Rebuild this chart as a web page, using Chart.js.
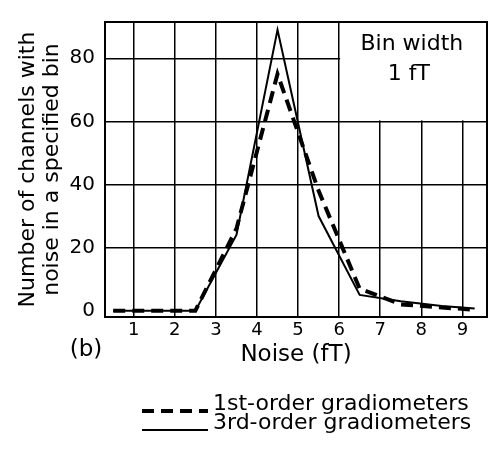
<!DOCTYPE html>
<html>
<head>
<meta charset="utf-8">
<script src="https://cdn.jsdelivr.net/npm/chart.js@4.4.1/dist/chart.umd.min.js"></script>
<style>
  html, body { margin: 0; padding: 0; background: #fff; }
  #wrap { width: 489px; height: 455px; }
</style>
</head>
<body>
<div id="wrap"><canvas id="noise"></canvas></div>
<script>
// values (bin centres in fT)
const noiseBins = [0.5, 1.5, 2.5, 3.5, 4.5, 5.5, 6.5, 7.5, 8.5, 9.3];
const firstOrder = [0, 0, 0, 26, 75, 38, 7, 2, 1, 0.3];
const thirdOrder = [0, 0, 0, 24, 89, 30, 5, 3, 1.5, 0.7];
const seriesNames = ['1st-order gradiometers', '3rd-order gradiometers'];
const xTicks = [1, 2, 3, 4, 5, 6, 7, 8, 9];
const yTicks = [0, 20, 40, 60, 80];

const FONT = 'DejaVu Sans';
const INK = '#000';

const toPoints = vals => vals.map((v, i) => ({ x: noiseBins[i], y: v }));

// frame, "Bin width" box, panel mark and the legend under the axis
const paperPlugin = {
  id: 'paper',
  beforeDatasetsDraw(chart) {
    const { ctx, chartArea: a, scales: { x, y } } = chart;
    ctx.save();
    const bx = x.getPixelForValue(6);
    const by = y.getPixelForValue(60);
    ctx.fillStyle = '#fff';
    ctx.fillRect(bx + 1, a.top + 1, a.right - bx - 2, by - a.top - 2);
    ctx.strokeStyle = INK;
    ctx.lineWidth = 2;
    ctx.strokeRect(a.left, a.top, a.right - a.left, a.bottom - a.top);
    ctx.restore();
  },
  afterDraw(chart) {
    const { ctx, scales: { x, y } } = chart;
    ctx.save();
    ctx.fillStyle = INK;
    ctx.font = '22px "' + FONT + '"';
    ctx.textAlign = 'center';
    ctx.textBaseline = 'middle';
    ctx.fillText('Bin width', x.getPixelForValue(7.77), y.getPixelForValue(84.5));
    ctx.fillText('1 fT', x.getPixelForValue(7.7), y.getPixelForValue(75));
    ctx.font = '23px "' + FONT + '"';
    ctx.fillText('(b)', 86, 350);

    ctx.font = '22px "' + FONT + '"';
    ctx.textAlign = 'left';
    chart.data.datasets.forEach((ds, i) => {
      const cy = 404 + i * 19;
      ctx.strokeStyle = ds.borderColor;
      ctx.lineWidth = ds.borderWidth;
      ctx.setLineDash(ds.borderDash || []);
      ctx.beginPath();
      ctx.moveTo(142, cy + 7);
      ctx.lineTo(208, cy + 7);
      ctx.stroke();
      ctx.setLineDash([]);
      ctx.fillText(ds.label, 213, cy);
    });
    ctx.restore();
  }
};

new Chart(document.getElementById('noise'), {
  type: 'line',
  data: {
    datasets: [
      {
        label: seriesNames[0],
        data: toPoints(firstOrder),
        borderColor: INK,
        borderWidth: 4,
        borderDash: [12, 7],
        pointRadius: 0,
        tension: 0
      },
      {
        label: seriesNames[1],
        data: toPoints(thirdOrder),
        borderColor: INK,
        borderWidth: 2,
        pointRadius: 0,
        tension: 0
      }
    ]
  },
  options: {
    responsive: true,
    maintainAspectRatio: false,
    animation: false,
    devicePixelRatio: 1,
    layout: { autoPadding: false, padding: { left: 16, top: 12, right: 2, bottom: 86 } },
    plugins: {
      legend: { display: false },
      tooltip: { enabled: false }
    },
    scales: {
      x: {
        type: 'linear',
        min: 0.3,
        max: 9.6,
        afterBuildTicks: s => { s.ticks = xTicks.map(v => ({ value: v })); },
        afterFit: s => { s.height = 52; },
        grid: { color: INK, lineWidth: 1.5, drawTicks: false },
        border: { color: INK, width: 2 },
        ticks: { color: INK, padding: 3, font: { family: FONT, size: 18 } },
        title: {
          display: true,
          text: 'Noise (fT)',
          color: INK,
          padding: { top: 2, bottom: 0 },
          font: { family: FONT, size: 23 }
        }
      },
      y: {
        min: -2,
        max: 91.5,
        afterBuildTicks: s => { s.ticks = yTicks.map(v => ({ value: v })); },
        afterFit: s => { s.width = 89; },
        grid: {
          color: c => (c.tick && c.tick.value === 0 ? 'rgba(0,0,0,0)' : INK),
          lineWidth: 1.5,
          drawTicks: false
        },
        border: { color: INK, width: 2 },
        ticks: { color: INK, padding: 10, font: { family: FONT, size: 20 } },
        title: {
          display: true,
          text: ['Number of channels with', 'noise in a specified bin'],
          color: INK,
          padding: { top: 0, bottom: 0 },
          font: { family: FONT, size: 22, lineHeight: 1.1 }
        }
      }
    }
  },
  plugins: [paperPlugin]
});
</script>
</body>
</html>
